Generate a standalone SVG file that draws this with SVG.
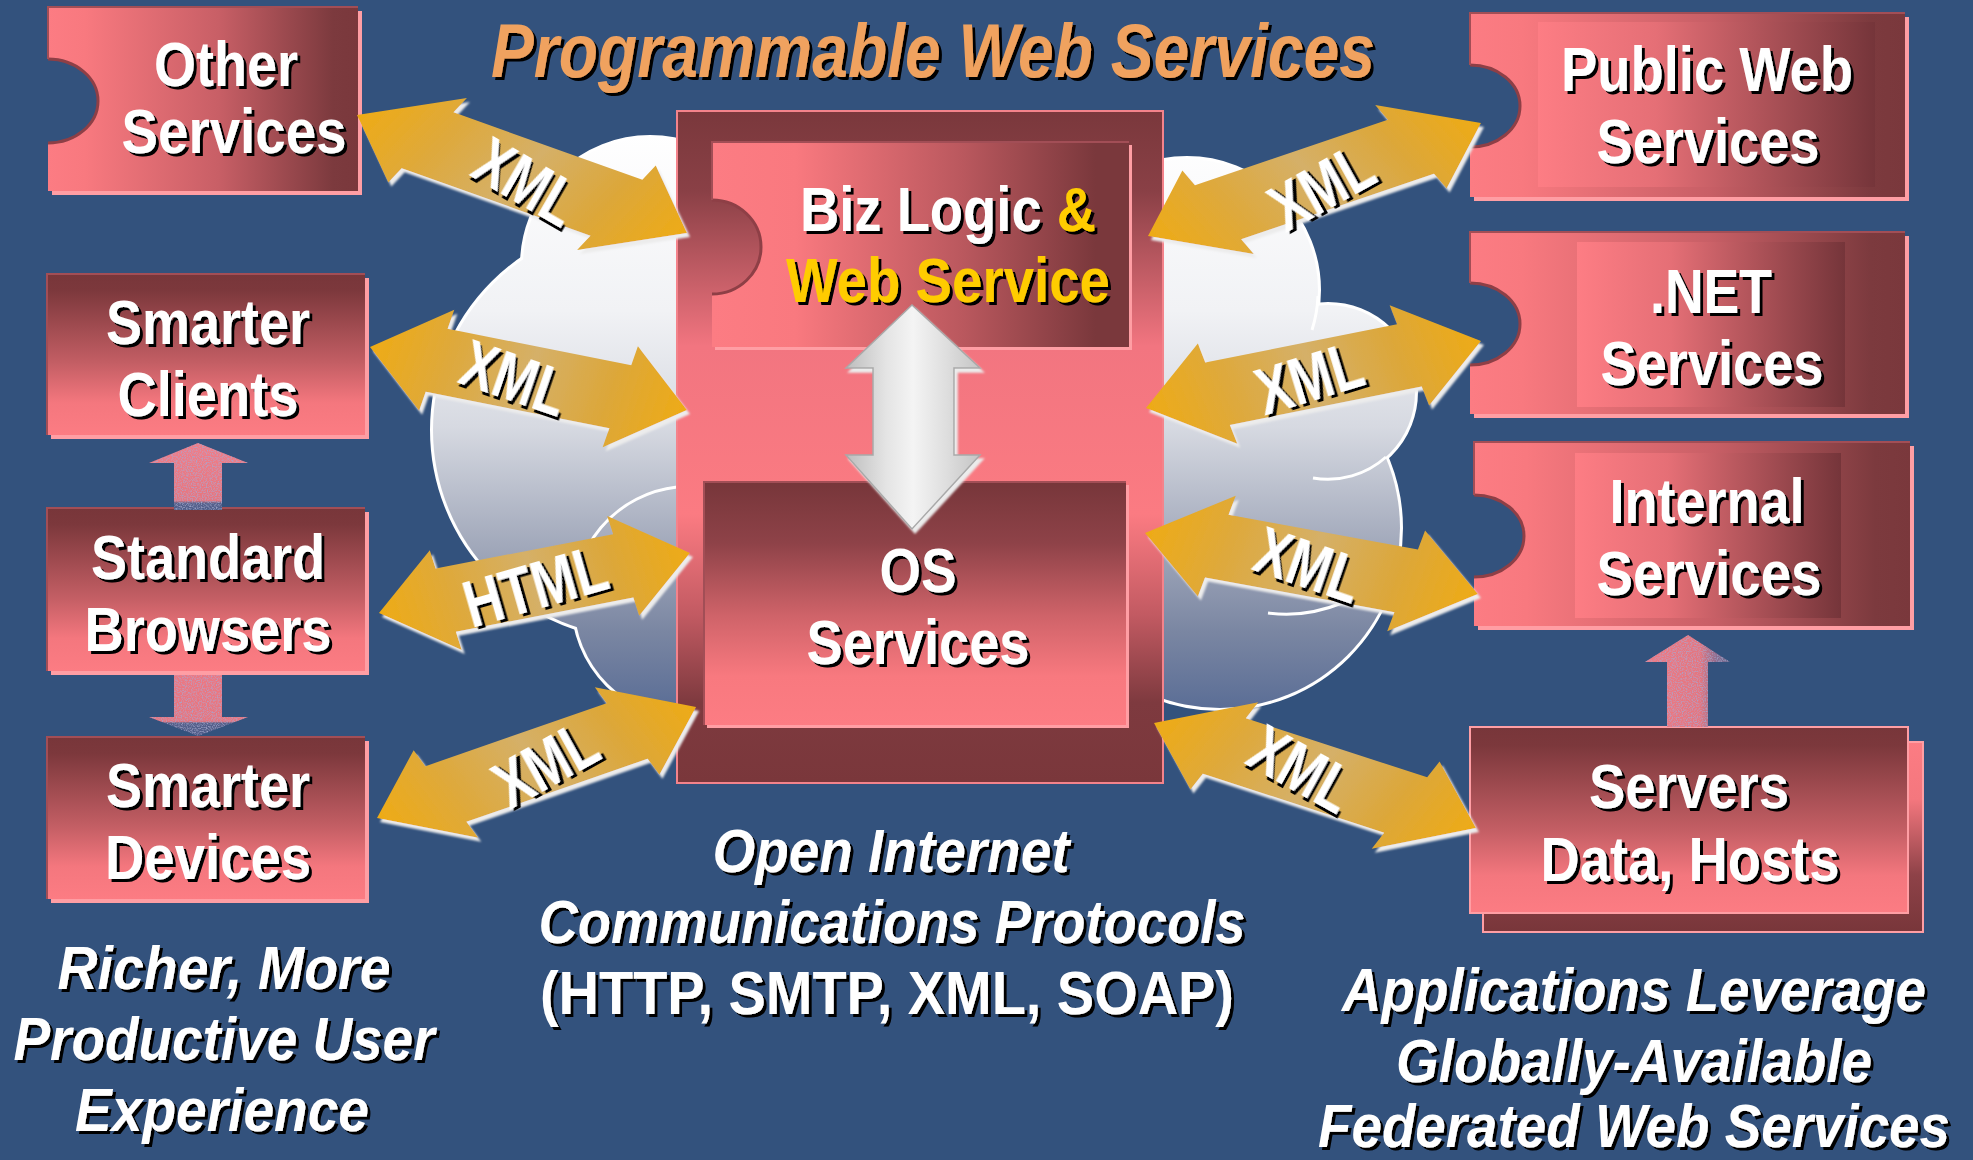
<svg xmlns="http://www.w3.org/2000/svg" width="1973" height="1160" viewBox="0 0 1973 1160">
<defs>
<style>
.t{font-family:"Liberation Sans",Arial,Helvetica,sans-serif;font-weight:bold;fill:#fff;filter:url(#tsh);text-anchor:middle}
.bt{font-size:63px}
.it{font-style:italic;font-size:62px}
.nt{font-size:62px}
.lbl{font-size:66px;filter:url(#tshL)}
.yl{fill:#ffcc00}
.ttl{font-style:italic;font-size:76px;fill:#f0a25e}
.cl{fill:none;stroke:#fff;stroke-width:3}
.rim{fill:none;stroke:#8e3f46;stroke-width:3}
.edge{fill:none;stroke:#a24e56;stroke-width:2}
.lt{fill:#ff9ea4}
.ga{fill:url(#gold)}
</style>
<filter id="tsh" filterUnits="userSpaceOnUse" x="0" y="0" width="1973" height="1160">
<feOffset in="SourceAlpha" dx="3" dy="3" result="o"/>
<feFlood flood-color="#000"/>
<feComposite in2="o" operator="in" result="s"/>
<feMerge><feMergeNode in="s"/><feMergeNode in="SourceGraphic"/></feMerge>
</filter>
<filter id="tshL" x="-5%" y="-10%" width="115%" height="130%">
<feOffset in="SourceAlpha" dx="3" dy="3" result="o"/>
<feFlood flood-color="#000"/>
<feComposite in2="o" operator="in" result="s"/>
<feMerge><feMergeNode in="s"/><feMergeNode in="SourceGraphic"/></feMerge>
</filter>
<filter id="ash" x="-5%" y="-10%" width="115%" height="130%">
<feOffset in="SourceAlpha" dx="3" dy="4" result="o"/>
<feGaussianBlur in="o" stdDeviation="1" result="b"/>
<feFlood flood-color="#ececec"/>
<feComposite in2="b" operator="in" result="s"/>
<feMerge><feMergeNode in="s"/><feMergeNode in="SourceGraphic"/></feMerge>
</filter>
<filter id="spk" x="0" y="0" width="100%" height="100%">
<feTurbulence type="fractalNoise" baseFrequency="0.8" numOctaves="2" seed="3" result="n"/>
<feColorMatrix in="n" type="matrix" values="0 0 0 0 0.35  0 0 0 0 0.38  0 0 0 0 0.6  0 0 0 -2.2 1.25" result="d"/>
<feComposite in="d" in2="SourceAlpha" operator="in" result="m"/>
<feMerge><feMergeNode in="SourceGraphic"/><feMergeNode in="m"/></feMerge>
</filter>
<linearGradient id="gold" x1="0" y1="0" x2="1" y2="0">
<stop offset="0" stop-color="#eeab16"/><stop offset="0.25" stop-color="#dea93c"/><stop offset="0.5" stop-color="#d5b068"/><stop offset="0.75" stop-color="#dca73a"/><stop offset="1" stop-color="#eeab16"/>
</linearGradient>
<linearGradient id="gray" x1="0" y1="0" x2="1" y2="0">
<stop offset="0" stop-color="#bdbdbd"/><stop offset="0.3" stop-color="#e4e4e4"/><stop offset="0.5" stop-color="#f4f4f4"/><stop offset="0.75" stop-color="#dedede"/><stop offset="1" stop-color="#c4c4c4"/>
</linearGradient>
<linearGradient id="gH" x1="0" y1="0" x2="1" y2="0">
<stop offset="0" stop-color="#fc7c83"/><stop offset="0.12" stop-color="#f8797f"/><stop offset="0.55" stop-color="#c85f66"/><stop offset="0.92" stop-color="#7c3a3e"/><stop offset="1" stop-color="#7a383c"/>
</linearGradient>
<linearGradient id="gHi" x1="0" y1="0" x2="1" y2="0">
<stop offset="0" stop-color="#fd7d84"/><stop offset="0.35" stop-color="#e56f76"/><stop offset="1" stop-color="#75353a"/>
</linearGradient>
<linearGradient id="gV" x1="0" y1="0" x2="0" y2="1">
<stop offset="0" stop-color="#78363a"/><stop offset="0.1" stop-color="#7c383c"/><stop offset="0.55" stop-color="#c35e64"/><stop offset="0.8" stop-color="#f4777e"/><stop offset="1" stop-color="#fc7c83"/>
</linearGradient>
<linearGradient id="gVr" x1="0" y1="0" x2="0" y2="1">
<stop offset="0" stop-color="#fc7c83"/><stop offset="0.3" stop-color="#f4777e"/><stop offset="0.7" stop-color="#8e4248"/><stop offset="1" stop-color="#78363a"/>
</linearGradient>
<linearGradient id="gBiz" x1="0" y1="0" x2="1" y2="0">
<stop offset="0" stop-color="#fc7c83"/><stop offset="0.2" stop-color="#f9797f"/><stop offset="0.6" stop-color="#ba585e"/><stop offset="0.92" stop-color="#7a383c"/>
</linearGradient>
<linearGradient id="gOS" x1="0" y1="0" x2="0" y2="1">
<stop offset="0" stop-color="#77363a"/><stop offset="0.25" stop-color="#8e4248"/><stop offset="0.55" stop-color="#cf6369"/><stop offset="0.8" stop-color="#f8797f"/><stop offset="1" stop-color="#fc7c83"/>
</linearGradient>
<linearGradient id="gOut" x1="0" y1="0" x2="0" y2="1">
<stop offset="0" stop-color="#7a383c"/><stop offset="0.12" stop-color="#8a4046"/><stop offset="0.35" stop-color="#f27580"/><stop offset="0.6" stop-color="#fb7b82"/><stop offset="0.75" stop-color="#c25a62"/><stop offset="0.88" stop-color="#7e3a3f"/><stop offset="1" stop-color="#7a373b"/>
</linearGradient>
<linearGradient id="cg" gradientUnits="userSpaceOnUse" x1="0" y1="135" x2="0" y2="720">
<stop offset="0" stop-color="#ffffff"/><stop offset="0.3" stop-color="#f1f2f5"/><stop offset="0.5" stop-color="#d6d9e1"/><stop offset="0.7" stop-color="#a2a9bb"/><stop offset="0.85" stop-color="#7a86a2"/><stop offset="1" stop-color="#566a94"/>
</linearGradient>
<linearGradient id="pkUp" x1="0" y1="0" x2="0" y2="1">
<stop offset="0" stop-color="#f07e88"/><stop offset="0.86" stop-color="#e6767f"/><stop offset="0.9" stop-color="#56618c"/><stop offset="1" stop-color="#4e5d8a"/>
</linearGradient>
<linearGradient id="pkDn" x1="0" y1="0" x2="0" y2="1">
<stop offset="0" stop-color="#ec7882"/><stop offset="0.76" stop-color="#e6767f"/><stop offset="0.79" stop-color="#55608b"/><stop offset="1" stop-color="#4e5b88"/>
</linearGradient>
<linearGradient id="pkR" x1="0" y1="0" x2="1" y2="0">
<stop offset="0" stop-color="#ee7a84"/><stop offset="0.65" stop-color="#e4767f"/><stop offset="0.85" stop-color="#8a6a8e"/><stop offset="1" stop-color="#6a6a90"/>
</linearGradient>
<g id="cs">
<circle cx="650" cy="265" r="127"/><circle cx="640" cy="430" r="207"/><circle cx="690" cy="602" r="116"/>
<circle cx="1187" cy="290" r="131"/><circle cx="1328" cy="392" r="87"/><circle cx="1220" cy="528" r="180"/>
</g>
</defs>

<rect width="1973" height="1160" fill="#33527d"/>

<g id="cloud">
<use href="#cs" fill="none" stroke="#fff" stroke-width="6"/>
<use href="#cs" fill="url(#cg)"/>
<path class="cl" d="M677,487 A116 116 0 0 0 574,610"/>
<path class="cl" d="M1386,457 A87 87 0 0 1 1313,478"/>
<path class="cl" d="M1318,296 A131 131 0 0 1 1312,330"/>
<path class="cl" d="M1268,613 Q1305,618 1342,603"/>
</g>

<g id="center-block">
<rect x="677" y="111" width="486" height="672" fill="url(#gOut)" stroke="#f4838b" stroke-width="2"/>
</g>

<g id="biz-logic">
<path class="lt" d="M715,145 H1132 V350 H715 V293.9 A49 47 0 1 0 715,200.1 Z"/>
<path d="M712,142 H1129 V347 H712 V294 A49 47 0 0 0 712,200 Z" fill="url(#gBiz)"/>
<path class="rim" d="M712,294 A49 47 0 0 0 712,200"/>
<path class="edge" d="M712,200 V142 H1129"/>
<text class="t bt" x="948" y="231" textLength="296" lengthAdjust="spacingAndGlyphs">Biz Logic <tspan class="yl">&amp;</tspan></text>
<text class="t bt yl" x="948" y="302" textLength="324" lengthAdjust="spacingAndGlyphs">Web Service</text>
</g>

<g id="os-services">
<rect class="lt" x="707" y="485" width="422" height="243"/>
<rect x="704" y="482" width="422" height="243" fill="url(#gOS)"/>
<path class="edge" d="M704,725 V482 H1126"/>
<text class="t bt" x="918" y="592" textLength="77" lengthAdjust="spacingAndGlyphs">OS</text>
<text class="t bt" x="918" y="664" textLength="223" lengthAdjust="spacingAndGlyphs">Services</text>
</g>

<g id="other-services">
<path class="lt" d="M52,11 H362 V195 H52 V142.9 A50 42 0 1 0 52,59.1 Z"/>
<path d="M48,7 H358 V191 H48 V143 A50 42 0 0 0 48,59 Z" fill="url(#gH)"/>
<path class="rim" d="M48,143 A50 42 0 0 0 48,59"/>
<path class="edge" d="M48,59 V7 H358"/>
<text class="t bt" x="226" y="86" textLength="144" lengthAdjust="spacingAndGlyphs">Other</text>
<text class="t bt" x="234" y="153" textLength="225" lengthAdjust="spacingAndGlyphs">Services</text>
</g>

<g id="smarter-clients">
<rect class="lt" x="51" y="278" width="318" height="161"/>
<rect x="47" y="274" width="318" height="161" fill="url(#gV)"/>
<path class="edge" d="M47,435 V274 H365"/>
<text class="t bt" x="208" y="344" textLength="204" lengthAdjust="spacingAndGlyphs">Smarter</text>
<text class="t bt" x="208" y="416" textLength="181" lengthAdjust="spacingAndGlyphs">Clients</text>
</g>

<g id="standard-browsers">
<rect class="lt" x="51" y="512" width="318" height="163"/>
<rect x="47" y="508" width="318" height="163" fill="url(#gV)"/>
<path class="edge" d="M47,671 V508 H365"/>
<text class="t bt" x="208" y="579" textLength="234" lengthAdjust="spacingAndGlyphs">Standard</text>
<text class="t bt" x="208" y="651" textLength="247" lengthAdjust="spacingAndGlyphs">Browsers</text>
</g>

<g id="smarter-devices">
<rect class="lt" x="51" y="741" width="318" height="162"/>
<rect x="47" y="737" width="318" height="162" fill="url(#gV)"/>
<path class="edge" d="M47,899 V737 H365"/>
<text class="t bt" x="208" y="807" textLength="204" lengthAdjust="spacingAndGlyphs">Smarter</text>
<text class="t bt" x="208" y="879" textLength="206" lengthAdjust="spacingAndGlyphs">Devices</text>
</g>

<g id="public-web-services">
<path class="lt" d="M1474,17 H1909 V201 H1474 V146.9 A50 41 0 1 0 1474,65.1 Z"/>
<path d="M1470,13 H1905 V197 H1470 V147 A50 41 0 0 0 1470,65 Z" fill="url(#gH)"/>
<rect x="1538" y="22" width="337" height="165" fill="url(#gHi)"/>
<path class="rim" d="M1470,147 A50 41 0 0 0 1470,65"/>
<path class="edge" d="M1470,65 V13 H1905"/>
<text class="t bt" x="1707" y="91" textLength="292" lengthAdjust="spacingAndGlyphs">Public Web</text>
<text class="t bt" x="1708" y="163" textLength="223" lengthAdjust="spacingAndGlyphs">Services</text>
</g>

<g id="net-services">
<path class="lt" d="M1474,236 H1909 V418 H1474 V364.9 A50 41 0 1 0 1474,283.1 Z"/>
<path d="M1470,232 H1905 V414 H1470 V365 A50 41 0 0 0 1470,283 Z" fill="url(#gH)"/>
<rect x="1577" y="242" width="268" height="165" fill="url(#gHi)"/>
<path class="rim" d="M1470,365 A50 41 0 0 0 1470,283"/>
<path class="edge" d="M1470,283 V232 H1905"/>
<text class="t bt" x="1711" y="313" textLength="122" lengthAdjust="spacingAndGlyphs">.NET</text>
<text class="t bt" x="1712" y="385" textLength="223" lengthAdjust="spacingAndGlyphs">Services</text>
</g>

<g id="internal-services">
<path class="lt" d="M1478,446 H1914 V630 H1478 V576.9 A50 41 0 1 0 1478,495.1 Z"/>
<path d="M1474,442 H1910 V626 H1474 V577 A50 41 0 0 0 1474,495 Z" fill="url(#gH)"/>
<rect x="1575" y="453" width="266" height="165" fill="url(#gHi)"/>
<path class="rim" d="M1474,577 A50 41 0 0 0 1474,495"/>
<path class="edge" d="M1474,495 V442 H1910"/>
<text class="t bt" x="1707" y="523" textLength="195" lengthAdjust="spacingAndGlyphs">Internal</text>
<text class="t bt" x="1709" y="595" textLength="225" lengthAdjust="spacingAndGlyphs">Services</text>
</g>

<g id="servers">
<rect x="1483" y="742" width="440" height="190" fill="url(#gVr)" stroke="#ff9ea4" stroke-width="2"/>
<rect x="1470" y="727" width="438" height="186" fill="url(#gV)" stroke="#ff9ea4" stroke-width="2"/>
<text class="t bt" x="1689" y="808" textLength="200" lengthAdjust="spacingAndGlyphs">Servers</text>
<text class="t bt" x="1690" y="881" textLength="299" lengthAdjust="spacingAndGlyphs">Data, Hosts</text>
</g>

<g id="connectors">
<polygon fill="url(#pkUp)" filter="url(#spk)" points="198,443 248,463 222,463 222,510 174,510 174,463 149,463"/>
<polygon fill="url(#pkDn)" filter="url(#spk)" points="174,675 222,675 222,717 248,717 198,736 149,717 174,717"/>
<polygon fill="url(#pkR)" filter="url(#spk)" points="1688,635 1730,662 1708,662 1708,727 1667,727 1667,662 1645,662"/>
<polygon fill="url(#gray)" stroke="#a9a9a9" stroke-width="1.5" filter="url(#ash)" points="912,305 980,368 954,368 954,455 980,455 912,529 846,455 873,455 873,368 846,368"/>

<g filter="url(#ash)"><polygon class="ga" transform="translate(357 115) rotate(19.67) skewX(-23.27)" points="0,0 75,-53 75,-35 275.5,-35 275.5,-53 350.5,0 275.5,53 275.5,35 75,35 75,53"/></g>
<text class="t lbl" transform="translate(527 181) rotate(30)" x="0" y="24" textLength="108" lengthAdjust="spacingAndGlyphs">XML</text>

<g filter="url(#ash)"><polygon class="ga" transform="translate(370 347) rotate(11.24) skewX(-7.97)" points="0,0 68,-53 68,-33 255.2,-33 255.2,-53 323.2,0 255.2,53 255.2,33 68,33 68,53"/></g>
<text class="t lbl" transform="translate(515 377) rotate(19)" x="0" y="24" textLength="108" lengthAdjust="spacingAndGlyphs">XML</text>

<g filter="url(#ash)"><polygon class="ga" transform="translate(379 613) rotate(-10.92) skewX(6.84)" points="0,0 68,-52 68,-33 248.7,-33 248.7,-52 316.7,0 248.7,52 248.7,33 68,33 68,52"/></g>
<text class="t lbl" transform="translate(535 585) rotate(-16)" x="0" y="24" textLength="146" lengthAdjust="spacingAndGlyphs">HTML</text>

<g filter="url(#ash)"><polygon class="ga" transform="translate(377 818) rotate(-19.18) skewX(17.22)" points="0,0 73,-52 73,-33 264.8,-33 264.8,-52 337.8,0 264.8,52 264.8,33 73,33 73,52"/></g>
<text class="t lbl" transform="translate(545 763) rotate(-29)" x="0" y="24" textLength="108" lengthAdjust="spacingAndGlyphs">XML</text>

<g filter="url(#ash)"><polygon class="ga" transform="translate(1148 236) rotate(-18.74) skewX(21.8)" points="0,0 74,-51 74,-33 277.6,-33 277.6,-51 351.6,0 277.6,51 277.6,33 74,33 74,51"/></g>
<text class="t lbl" transform="translate(1321 186) rotate(-29)" x="0" y="24" textLength="108" lengthAdjust="spacingAndGlyphs">XML</text>

<g filter="url(#ash)"><polygon class="ga" transform="translate(1146 408) rotate(-11.31) skewX(10.2)" points="0,0 73,-53 73,-33 268.6,-33 268.6,-53 341.6,0 268.6,53 268.6,33 73,33 73,53"/></g>
<text class="t lbl" transform="translate(1309 377) rotate(-17)" x="0" y="24" textLength="108" lengthAdjust="spacingAndGlyphs">XML</text>

<g filter="url(#ash)"><polygon class="ga" transform="translate(1145 533) rotate(10.38) skewX(-10.2)" points="0,0 73,-53 73,-33 265.5,-33 265.5,-53 338.5,0 265.5,53 265.5,33 73,33 73,53"/></g>
<text class="t lbl" transform="translate(1309 564) rotate(19)" x="0" y="24" textLength="108" lengthAdjust="spacingAndGlyphs">XML</text>

<g filter="url(#ash)"><polygon class="ga" transform="translate(1154 723) rotate(18.06) skewX(-19.8)" points="0,0 74,-52 74,-33 264.7,-33 264.7,-52 338.7,0 264.7,52 264.7,33 74,33 74,52"/></g>
<text class="t lbl" transform="translate(1302 768) rotate(29)" x="0" y="24" textLength="108" lengthAdjust="spacingAndGlyphs">XML</text>
</g>

<g id="captions">
<text class="t ttl" x="933" y="77" textLength="884" lengthAdjust="spacingAndGlyphs">Programmable Web Services</text>
<text class="t it" x="224" y="989" textLength="333" lengthAdjust="spacingAndGlyphs">Richer, More</text>
<text class="t it" x="224" y="1060" textLength="421" lengthAdjust="spacingAndGlyphs">Productive User</text>
<text class="t it" x="222" y="1131" textLength="294" lengthAdjust="spacingAndGlyphs">Experience</text>
<text class="t it" x="891" y="872" textLength="357" lengthAdjust="spacingAndGlyphs">Open Internet</text>
<text class="t it" x="892" y="943" textLength="707" lengthAdjust="spacingAndGlyphs">Communications Protocols</text>
<text class="t nt" x="887" y="1014" textLength="694" lengthAdjust="spacingAndGlyphs">(HTTP, SMTP, XML, SOAP)</text>
<text class="t it" x="1634" y="1011" textLength="584" lengthAdjust="spacingAndGlyphs">Applications Leverage</text>
<text class="t it" x="1634" y="1082" textLength="476" lengthAdjust="spacingAndGlyphs">Globally-Available</text>
<text class="t it" x="1634" y="1147" textLength="632" lengthAdjust="spacingAndGlyphs">Federated Web Services</text>
</g>
</svg>
